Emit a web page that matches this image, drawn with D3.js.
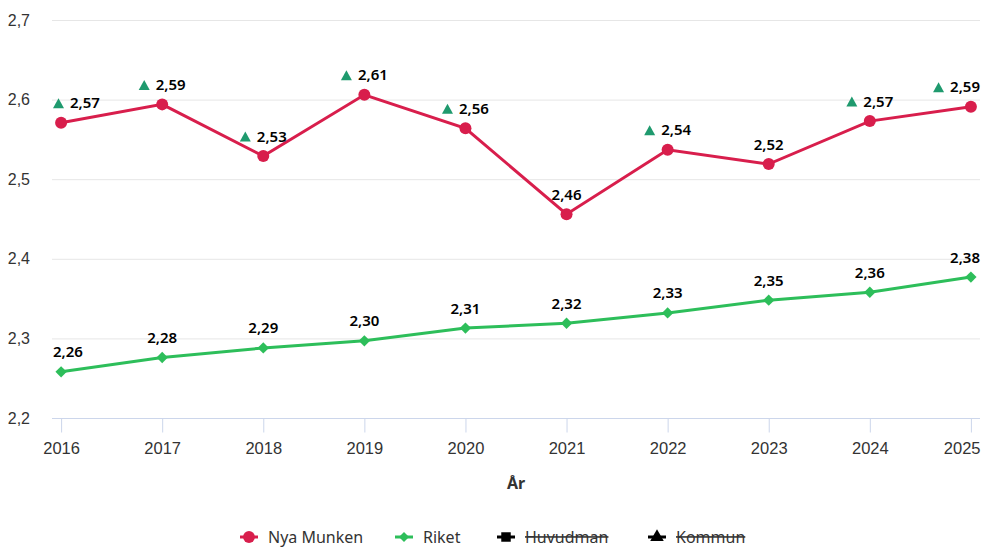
<!DOCTYPE html>
<html>
<head>
<meta charset="utf-8">
<script src="https://cdn.jsdelivr.net/npm/d3@7"></script>
<style>
  body { margin: 0; background: #fff; font-family: "Noto Sans", sans-serif; }
  .tick text { font-size: 16.5px; fill: #333; }
  .dlabel { font-size: 15px; font-weight: 600; fill: #000; }
</style>
</head>
<body>
<div class="svg-container"></div>
<script>
document.addEventListener("DOMContentLoaded", () => {

  let years = [2016, 2017, 2018, 2019, 2020, 2021, 2022, 2023, 2024, 2025];
  let nyaMunken = [2.571, 2.594, 2.529, 2.606, 2.564, 2.456, 2.537, 2.519, 2.573, 2.591];
  let riket = [2.258, 2.276, 2.288, 2.297, 2.313, 2.319, 2.332, 2.348, 2.358, 2.377];
  // green triangle shown beside the Nya Munken label
  let upFlags = [1, 1, 1, 1, 1, 0, 1, 0, 1, 1];
  let yTicks = [2.2, 2.3, 2.4, 2.5, 2.6, 2.7];
  let legendNames = ["Nya Munken", "Riket", "Huvudman", "Kommun"];
  let legendHidden = [false, false, true, true];

  let red = "#d81e4c", green = "#2dbe5a", upColor = "#1f9a6e";

  let width = 983,
  height = 547;
  let left = 52, right = 980, top = 20, bottom = 418;

  let svg = d3.select(".svg-container").append("svg")
    .attr("width", width)
    .attr("height", height);

  const fmt = d3.formatLocale({decimal: ",", thousands: " ", grouping: [3], currency: ["", ""]});
  const f1 = fmt.format(".1f"), f2 = fmt.format(".2f");

  const xScale = d3.scalePoint()
    .domain(years)
    .range([left, right])
    .padding(0.09);

  const yScale = d3.scaleLinear()
    .domain([2.2, 2.7])
    .range([bottom, top]);

  //grid
  svg.append("g")
    .selectAll("line")
    .data(yTicks)
    .enter()
    .append("line")
    .attr("x1", left)
    .attr("x2", right)
    .attr("y1", d => yScale(d) + 0.5)
    .attr("y2", d => yScale(d) + 0.5)
    .attr("stroke", d => d == 2.2 ? "#ccd6eb" : "#e6e6e6");

  //y labels
  const yAxis = d3.axisLeft(yScale)
    .tickValues(yTicks)
    .tickSize(0)
    .tickPadding(0)
    .tickFormat(f1);

  svg.append("g")
    .attr("transform", "translate(30,0)")
    .call(yAxis)
    .call(g => g.select(".domain").remove())
    .call(g => g.selectAll(".tick text").style("font-size", "16px"));

  //x axis
  const xAxis = d3.axisBottom(xScale)
    .tickSize(14)
    .tickPadding(10);

  svg.append("g")
    .attr("transform", "translate(0," + (bottom + 0.5) + ")")
    .call(xAxis)
    .call(g => g.select(".domain").remove())
    .call(g => g.selectAll(".tick line").attr("stroke", "#ccd6eb"))
    .call(g => g.selectAll(".tick text")
      .filter(d => d == years[years.length - 1])
      .attr("text-anchor", "end")
      .attr("x", right - xScale(years[years.length - 1])));

  svg.append("text")
    .text("År")
    .attr("x", (left + right) / 2)
    .attr("y", 489)
    .attr("text-anchor", "middle")
    .style("font-size", "16px")
    .style("font-weight", "bold")
    .style("fill", "#333");

  const line = d3.line()
    .x((d, i) => xScale(years[i]))
    .y(d => yScale(d));

  const diamond = d3.symbol().type(d3.symbolSquare).size(64);

  //Riket
  svg.append("path")
    .attr("d", line(riket))
    .attr("fill", "none")
    .attr("stroke", green)
    .attr("stroke-width", 3);

  svg.selectAll(".riket")
    .data(riket)
    .enter()
    .append("path")
    .attr("class", "riket")
    .attr("d", diamond)
    .attr("transform", (d, i) => "translate(" + xScale(years[i]) + "," + yScale(d) + ") rotate(45)")
    .attr("fill", green);

  //Nya Munken
  svg.append("path")
    .attr("d", line(nyaMunken))
    .attr("fill", "none")
    .attr("stroke", red)
    .attr("stroke-width", 3);

  svg.selectAll(".munken")
    .data(nyaMunken)
    .enter()
    .append("circle")
    .attr("class", "munken")
    .attr("cx", (d, i) => xScale(years[i]))
    .attr("cy", d => yScale(d))
    .attr("r", 6)
    .attr("fill", red);

  //data labels
  const addLabel = (value, i, up) => {
    let px = xScale(years[i]), py = yScale(value);
    let g = svg.append("g");
    let offset = 0;
    if (up) {
      g.append("path")
        .attr("d", "M0,0 L5.5,-10 L11,0 Z")
        .attr("fill", upColor);
      offset = 17;
    }
    let t = g.append("text")
      .attr("class", "dlabel")
      .attr("x", offset)
      .attr("y", 0)
      .text(f2(value));
    let w = offset + t.node().getComputedTextLength();
    let x0 = Math.max(left + 1, Math.min(right - w, px - w / 2));
    g.attr("transform", "translate(" + x0 + "," + (py - 14.5) + ")");
  };

  nyaMunken.forEach((v, i) => addLabel(v, i, upFlags[i]));
  riket.forEach((v, i) => addLabel(v, i, 0));

  //legend
  let legendX = [240, 395, 497, 648];
  let legend = svg.append("g").attr("transform", "translate(0,537)");
  legendNames.forEach((name, i) => {
    let color = [red, green, "#000", "#000"][i];
    let g = legend.append("g").attr("transform", "translate(" + legendX[i] + ",0)");
    g.append("line")
      .attr("x1", 0).attr("x2", 18)
      .attr("stroke", color)
      .attr("stroke-width", 3);
    let sym = [d3.symbolCircle, d3.symbolSquare, d3.symbolSquare, d3.symbolTriangle][i];
    let size = [110, 50, 90, 80][i];
    g.append("path")
      .attr("d", d3.symbol().type(sym).size(size))
      .attr("transform", "translate(9,0)" + (i == 1 ? " rotate(45)" : ""))
      .attr("fill", color);
    g.append("text")
      .text(name)
      .attr("x", 28)
      .attr("dy", "0.35em")
      .style("font-size", "16px")
      .style("fill", "#333")
      .style("text-decoration", legendHidden[i] ? "line-through" : "none");
  });

});
</script>
</body>
</html>
